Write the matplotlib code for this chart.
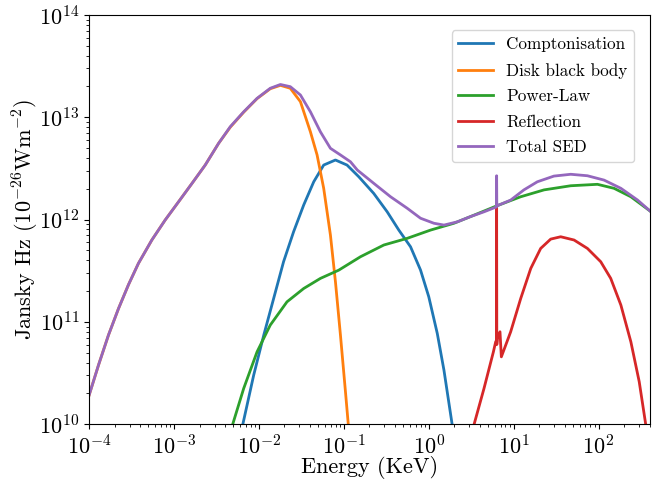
import numpy as np
import matplotlib
matplotlib.use("Agg")
import matplotlib.pyplot as plt

plt.rcParams['font.family'] = 'serif'
plt.rcParams['font.serif'] = ['cmr10']
plt.rcParams['mathtext.fontset'] = 'cm'
plt.rcParams['axes.formatter.use_mathtext'] = True

# energies (keV) and nu F_nu values
compt_e = [6.50e-3, 8.67e-3, 1.14e-2, 1.49e-2, 1.95e-2, 2.56e-2, 3.37e-2, 4.42e-2, 5.79e-2,
           7.96e-2, 0.109, 0.150, 0.225, 0.324, 0.444, 0.610, 0.80, 1.00, 1.26, 1.51, 1.89]
compt_f = [1.02e10, 3.01e10, 7.42e10, 1.69e11, 3.87e11, 7.6e11, 1.39e12, 2.34e12, 3.41e12,
           3.82e12, 3.41e12, 2.62e12, 1.80e12, 1.19e12, 7.89e11, 5.42e11, 3.21e11, 1.76e11,
           7.7e10, 3.37e10, 9.8e9]

disk_e = [1.0e-4, 1.29e-4, 1.69e-4, 2.22e-4, 2.91e-4, 3.81e-4, 5.48e-4, 7.87e-4, 1.13e-3,
          1.63e-3, 2.33e-3, 3.35e-3, 4.60e-3, 6.61e-3, 9.50e-3, 1.36e-2, 1.79e-2, 2.34e-2,
          3.08e-2, 4.04e-2, 4.84e-2, 5.79e-2, 6.95e-2, 7.96e-2, 9.12e-2, 0.1045, 0.1125]
disk_f = [1.92e10, 3.78e10, 7.42e10, 1.35e11, 2.31e11, 3.73e11, 6.31e11, 9.9e11, 1.49e12,
          2.26e12, 3.41e12, 5.56e12, 8.0e12, 1.12e13, 1.52e13, 1.90e13, 2.05e13, 1.92e13,
          1.42e13, 7.2e12, 4.28e12, 2.02e12, 7.05e11, 2.47e11, 7.42e10, 2.07e10, 1.02e10]

pl_e = [4.95e-3, 6.61e-3, 9.50e-3, 1.36e-2, 2.14e-2, 3.37e-2, 5.30e-2, 8.70e-2, 0.157,
        0.296, 0.557, 1.05, 1.98, 3.11, 6.3, 12.1, 22.8, 47.0, 97, 152, 240, 405]
pl_f = [1.02e10, 2.23e10, 5.09e10, 9.3e10, 1.57e11, 2.12e11, 2.66e11, 3.2e11, 4.33e11,
        5.64e11, 6.55e11, 7.89e11, 9.2e11, 1.07e12, 1.36e12, 1.67e12, 1.95e12, 2.14e12,
        2.21e12, 2.02e12, 1.67e12, 1.21e12]

refl_e = [3.40, 4.47, 5.77, 6.14, 6.28, 6.30, 6.33, 6.43, 6.90, 7.16, 9.22, 12.1, 15.9, 20.8,
          27.3, 35.8, 51.4, 73.9, 106, 139, 183, 240, 301, 360]
refl_f = [9.8e9, 2.23e10, 5.09e10, 6.38e10, 6.6e10, 1.33e12, 6.0e10, 6.9e10, 8.0e10, 4.55e10,
          8.0e10, 1.69e11, 3.33e11, 5.22e11, 6.44e11, 6.79e11, 6.31e11, 5.22e11, 3.87e11,
          2.66e11, 1.46e11, 6.38e10, 2.60e10, 9.8e9]

tot_e = [1.0e-4, 1.29e-4, 1.69e-4, 2.22e-4, 2.91e-4, 3.81e-4, 5.48e-4, 7.87e-4, 1.13e-3,
         1.63e-3, 2.33e-3, 3.35e-3, 4.60e-3, 6.61e-3, 9.50e-3, 1.36e-2, 1.79e-2, 2.34e-2,
         3.08e-2, 4.04e-2, 5.30e-2, 6.95e-2, 9.12e-2, 0.1197, 0.144, 0.225, 0.355, 0.557,
         0.80, 1.15, 1.51, 2.17, 3.11, 4.47, 6.28, 6.30, 6.33, 9.22, 13.2, 19.0, 29.8, 47.0,
         73.9, 116, 183, 288, 405]
tot_f = [1.92e10, 3.78e10, 7.42e10, 1.35e11, 2.31e11, 3.73e11, 6.31e11, 9.9e11, 1.49e12,
         2.26e12, 3.41e12, 5.56e12, 8.09e12, 1.13e13, 1.53e13, 1.92e13, 2.09e13, 1.99e13,
         1.65e13, 1.13e13, 7.2e12, 4.97e12, 4.28e12, 3.67e12, 3.05e12, 2.26e12, 1.67e12,
         1.29e12, 1.03e12, 9.2e11, 8.83e11, 9.5e11, 1.07e12, 1.19e12, 1.33e12, 2.68e12,
         1.36e12, 1.55e12, 1.95e12, 2.34e12, 2.66e12, 2.77e12, 2.68e12, 2.43e12, 2.02e12,
         1.55e12, 1.21e12]

fig = plt.figure(figsize=(6.65, 4.82), dpi=100)
ax = fig.add_axes([0.134, 0.120, 0.843, 0.849])

lw = 2
ax.plot(compt_e, compt_f, color='#1f77b4', lw=lw, label='Comptonisation')
ax.plot(disk_e, disk_f, color='#ff7f0e', lw=lw, label='Disk black body')
ax.plot(pl_e, pl_f, color='#2ca02c', lw=lw, label='Power-Law')
ax.plot(refl_e, refl_f, color='#d62728', lw=lw, label='Reflection')
ax.plot(tot_e, tot_f, color='#9467bd', lw=lw, label='Total SED')

ax.set_xscale('log')
ax.set_yscale('log')
ax.set_xlim(1e-4, 400)
ax.set_ylim(1e10, 1e14)
ax.set_xlabel('Energy (KeV)', fontsize=16)
ax.set_ylabel(r'Jansky Hz $(10^{-26}\mathrm{Wm}^{-2})$', fontsize=16)
ax.xaxis.set_label_coords(0.5, -0.078)
ax.yaxis.set_label_coords(-0.085, 0.5)
ax.tick_params(labelsize=16)
ax.legend(loc='upper right', fontsize=12.3, borderaxespad=0.9, labelspacing=0.6)

fig.savefig('out.png', dpi=100)
